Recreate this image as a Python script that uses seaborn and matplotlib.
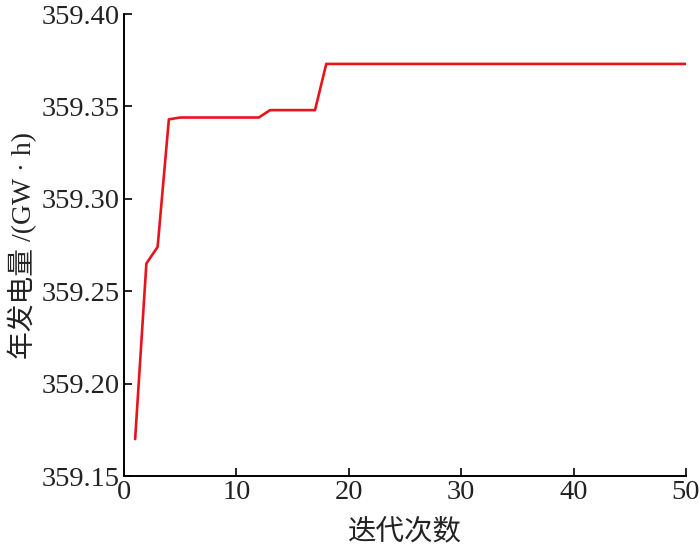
import matplotlib
matplotlib.use("Agg")
import matplotlib.pyplot as plt
import matplotlib.ticker as mticker
import seaborn as sns
import pandas as pd

iterations = list(range(1, 51))
energy = ([359.170, 359.265, 359.274, 359.343]
          + [359.344] * 8
          + [359.348] * 5
          + [359.373] * 33)

df = pd.DataFrame({"iter": iterations, "energy": energy})

sns.set_style("ticks")
plt.rcParams['font.family'] = ['Liberation Serif', 'Noto Sans CJK SC', 'DejaVu Sans']
plt.rcParams['axes.unicode_minus'] = False

fig = plt.figure(figsize=(7, 5.5), dpi=100)
ax = fig.add_axes([0.177, 0.1345, 0.803, 0.84])

sns.lineplot(data=df, x="iter", y="energy", ax=ax, color="#e8141c", linewidth=1.9)

ax.set_xlim(0, 50)
ax.set_ylim(359.15, 359.40)
ax.set_xticks([0, 10, 20, 30, 40, 50])
ax.set_yticks([359.15, 359.20, 359.25, 359.30, 359.35, 359.40])
ax.yaxis.set_major_formatter(mticker.FormatStrFormatter('%.2f'))

for s in ["top", "right"]:
    ax.spines[s].set_visible(False)
for s in ["left", "bottom"]:
    ax.spines[s].set_linewidth(1.4)
    ax.spines[s].set_color("black")

ax.tick_params(axis="both", direction="in", length=6, width=1.2,
               labelsize=20.5, colors="black", labelcolor="#222222", pad=3)

ax.set_xlabel("迭代次数", fontsize=20.5, labelpad=10, color="#222222",
              family=['Liberation Serif', 'Noto Sans CJK SC'])
ax.set_ylabel("年发电量 /(GW · h)", fontsize=20, labelpad=3, color="#222222",
              family=['Liberation Serif', 'Noto Sans CJK SC'])

fig.savefig("out.png", dpi=100)
